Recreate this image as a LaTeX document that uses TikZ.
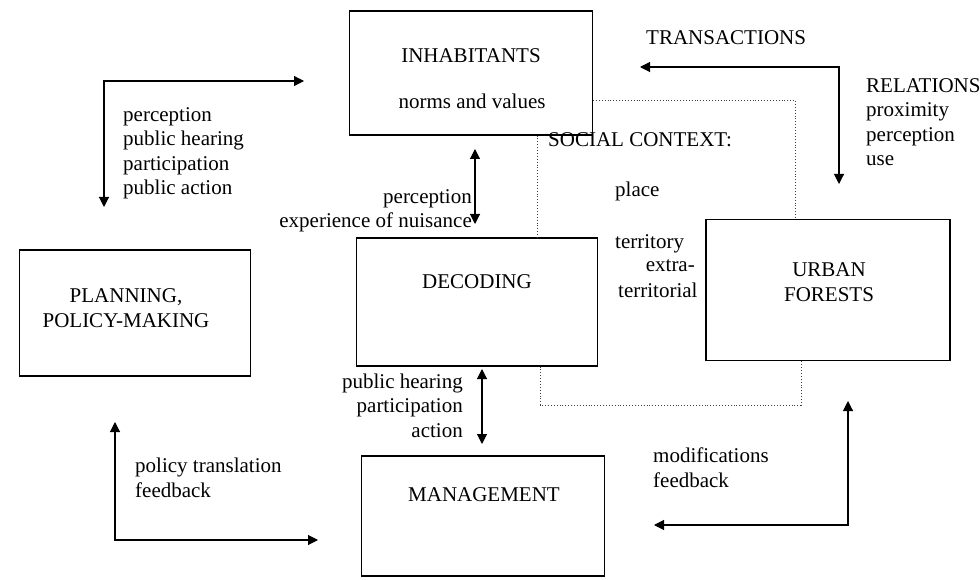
\documentclass[tikz,border=0pt]{standalone}
\usepackage{fontspec}
\setmainfont{Liberation Serif}
\usetikzlibrary{arrows.meta}
\begin{document}
\begin{tikzpicture}[x=1pt,y=-1pt,
  box/.style={draw, line width=1.1pt, inner sep=0pt},
  ttl/.style={inner sep=0pt, font=\fontsize{21}{24.5}\selectfont, align=center},
  lbl/.style={inner sep=0pt, font=\fontsize{21}{24.5}\selectfont},
  tip/.style={Triangle[length=10pt,width=10pt]},
  flow/.style={line width=1.1pt, {Triangle[length=10pt,width=10pt]}-{Triangle[length=10pt,width=10pt]}},
  ctx/.style={line width=0.9pt, dotted, black!75}]
\useasboundingbox (0,0) rectangle (980,580);

% the five blocks
\node[box, minimum width=243pt, minimum height=124pt] (inh) at (471,73) {};
\node[box, minimum width=241pt, minimum height=128pt] (dec) at (477,302) {};
\node[box, minimum width=243pt, minimum height=120pt] (man) at (483,516) {};
\node[box, minimum width=231pt, minimum height=126pt] (plan) at (135,313) {};
\node[box, minimum width=244pt, minimum height=141pt] (urb) at (828,290) {};

% block titles
\node[ttl] (inhT) at (471,56) {INHABITANTS};
\node[ttl] (inhN) at (472,101) {norms and values};
\node[ttl] (decT) at (477,282) {DECODING};
\node[ttl] (manT) at (484,495) {MANAGEMENT};
\node[ttl] (planT) at (126,308) {PLANNING,\\POLICY-MAKING};
\node[ttl] (urbT) at (829,282) {URBAN\\FORESTS};

% dotted outline of the social context
\coordinate (c1) at (795,100);
\coordinate (c2) at (537,0);
\coordinate (c3) at (540,405);
\coordinate (c4) at (801,405);
\draw[ctx] (inh.east |- c1) -- (c1) -- (c1 |- urb.north);
\draw[ctx] (c2 |- inh.south) -- (c2 |- dec.north);
\draw[ctx] (c3 |- dec.south) -- (c3) -- (c4) -- (c4 |- urb.south);

% arrow end points
\coordinate (a1) at (104,207);
\coordinate (a2) at (304,81);
\coordinate (b1) at (640,67);
\coordinate (b2) at (839,184);
\coordinate (p1) at (475,149);
\coordinate (p2) at (475,224);
\coordinate (h1) at (482,369);
\coordinate (h2) at (482,444);
\coordinate (d1) at (115,422);
\coordinate (d2) at (318,540);
\coordinate (e1) at (848,401);
\coordinate (e2) at (654,525);

% arrows
\draw[flow] (a1) |- (a2);
\draw[flow] (b1) -| (b2);
\draw[flow] (p1) -- (p2);
\draw[flow] (h1) -- (h2);
\draw[flow] (d1) |- (d2);
\draw[flow] (e1) |- (e2);

% labels (multi-line nodes sit on the baseline of their last line)
\node[lbl, align=left, anchor=base west] (lA) at (123,195)
  {perception\\public hearing\\participation\\public action};
\node[lbl, align=right, anchor=base east] (lB) at (472,228)
  {perception\\experience of nuisance};
\node[lbl, anchor=base west] (lSC) at (548,147) {SOCIAL CONTEXT:};
\node[lbl, anchor=base west] (lPl) at (615,197) {place};
\node[lbl, anchor=base west] (lTe) at (615,248) {territory};
\node[lbl, anchor=base east] (lEx) at (695,272) {extra-};
\node[lbl, anchor=base west] (lTl) at (618,297) {territorial};
\node[lbl, anchor=base west] (lTr) at (646,45) {TRANSACTIONS};
\node[lbl, align=left, anchor=base west] (lRe) at (866,166)
  {RELATIONS\\proximity\\perception\\use};
\node[lbl, align=right, anchor=base east] (lPh) at (463,437)
  {public hearing\\participation\\action};
\node[lbl, align=left, anchor=base west] (lPt) at (135,497)
  {policy translation\\feedback};
\node[lbl, align=left, anchor=base west] (lMo) at (653,487)
  {modifications\\feedback};
\end{tikzpicture}
\end{document}
